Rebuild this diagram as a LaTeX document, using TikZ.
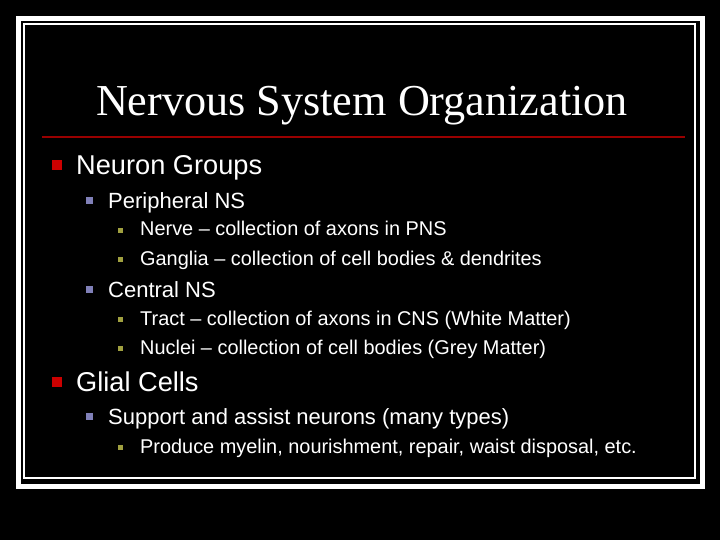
\documentclass[tikz,border=0pt]{standalone}
\usepackage{fontspec}
\setmainfont{Liberation Sans}
\newfontfamily\titlefont{Liberation Serif}
\begin{document}
\begin{tikzpicture}[x=1pt,y=-1pt,
  lone/.style={anchor=base west,text=white,font=\fontsize{27.2}{30}\selectfont,inner sep=0},
  ltwo/.style={anchor=base west,text=white,font=\fontsize{22}{26}\selectfont,inner sep=0},
  lthree/.style={anchor=base west,text=white,font=\fontsize{19.9}{22}\selectfont,inner sep=0}]
\fill[black] (0,0) rectangle (720,540);
\useasboundingbox (0,0) rectangle (720,540);
\draw[white,line width=5] (18.5,18.5) rectangle (702.5,486.5);
\draw[white,line width=1.5] (24,24) rectangle (695,478);
\node[text=white,font=\titlefont\fontsize{44.2}{48}\selectfont,anchor=base,inner sep=0] (title) at (362,116) {Nervous System Organization};
\draw[red!60!black,line width=1.5] (42,137) -- (685,137);
% bullets
\tikzset{bone/.style={fill=red!80!black},btwo/.style={fill={rgb,255:red,128;green,128;blue,184}},bthree/.style={fill={rgb,255:red,160;green,160;blue,64}}}
\fill[bone] (52,160) rectangle (62,170);
\fill[bone] (52,377) rectangle (62,387);
\fill[btwo] (86,197) rectangle (93,204);
\fill[btwo] (86,286) rectangle (93,293);
\fill[btwo] (86,413) rectangle (93,420);
\foreach \y in {229,258,318,347,446} \fill[bthree] (118,\y-1) rectangle (123,\y+4);
\node[lone] (a) at (76,174.5) {Neuron Groups};
\node[ltwo] (b) at (108,208) {Peripheral NS};
\node[lthree] (c) at (140,236) {Nerve – collection of axons in PNS};
\node[lthree] (d) at (140,265) {Ganglia – collection of cell bodies \& dendrites};
\node[ltwo] (e) at (108,297) {Central NS};
\node[lthree] (f) at (140,325) {Tract – collection of axons in CNS (White Matter)};
\node[lthree] (g) at (140,354) {Nuclei – collection of cell bodies (Grey Matter)};
\node[lone] (h) at (76,391.5) {Glial Cells};
\node[ltwo] (i) at (108,424) {Support and assist neurons (many types)};
\node[lthree] (j) at (140,453) {Produce myelin, nourishment, repair, waist disposal, etc.};
\end{tikzpicture}
\end{document}
